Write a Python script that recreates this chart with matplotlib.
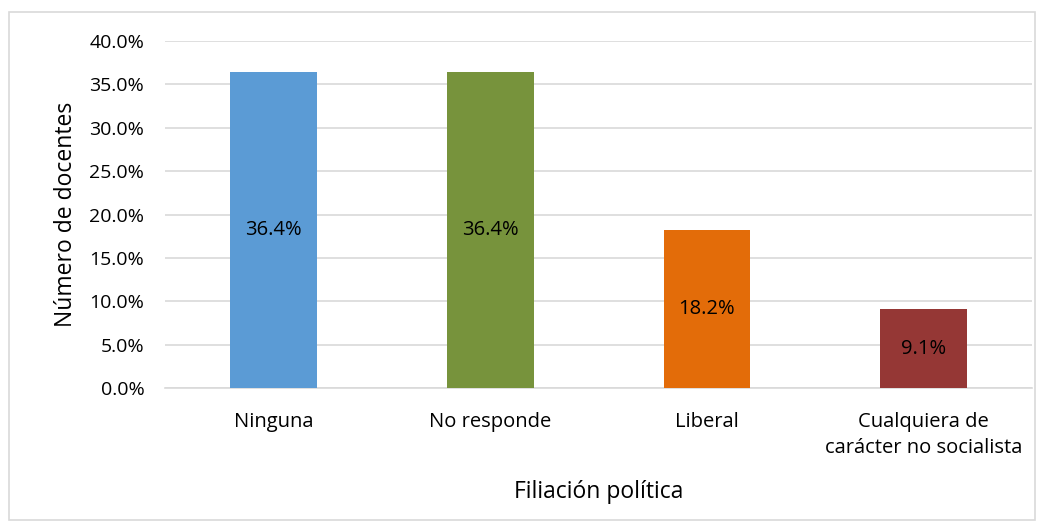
import matplotlib.pyplot as plt
from matplotlib.ticker import PercentFormatter
from matplotlib.patches import Rectangle

categorias = ['Ninguna', 'No responde', 'Liberal', 'Cualquiera de\ncarácter no socialista']
valores = [36.4, 36.4, 18.2, 9.1]
colores = ['#5B9BD5', '#77933C', '#E36C09', '#953735']

plt.rcParams['font.family'] = ['Open Sans', 'DejaVu Sans']

fig = plt.figure(figsize=(10.45, 5.29), dpi=100)
ax = fig.add_axes([0.158, 0.2665, 0.8296, 0.656])

# marco del grafico
fig.patches.append(Rectangle((9 / 1045, 9 / 529), 1026 / 1045, 508 / 529, transform=fig.transFigure,
                             fill=False, edgecolor='#D9D9D9', linewidth=1.2))

x = range(len(categorias))
bars = ax.bar(x, valores, width=0.4, color=colores, zorder=3)
for b, v in zip(bars, valores):
    ax.text(b.get_x() + b.get_width() / 2, v / 2, '%.1f%%' % v, ha='center', va='center',
            fontsize=14.5, color='black', zorder=4)

ax.set_xlim(-0.5, 3.5)
ax.set_ylim(0, 40)
ax.set_yticks(range(0, 41, 5))
ax.yaxis.set_major_formatter(PercentFormatter(decimals=1))
ax.set_xticks(list(x))
ax.set_xticklabels(categorias, fontsize=14.5, linespacing=1.4)
ax.tick_params(axis='y', labelsize=14, length=0, pad=15)
ax.tick_params(axis='x', length=0, pad=17)
ax.grid(axis='y', color='#D9D9D9', linewidth=1.2, zorder=0)
for s in ['top', 'right', 'left']:
    ax.spines[s].set_visible(False)
ax.spines['bottom'].set_color('#D9D9D9')
ax.spines['bottom'].set_linewidth(1.2)

ax.set_ylabel('Número de docentes', fontsize=16.5, labelpad=8)
ax.set_xlabel('Filiación política', fontsize=16.5, labelpad=16)

fig.savefig('out.png', dpi=100)
